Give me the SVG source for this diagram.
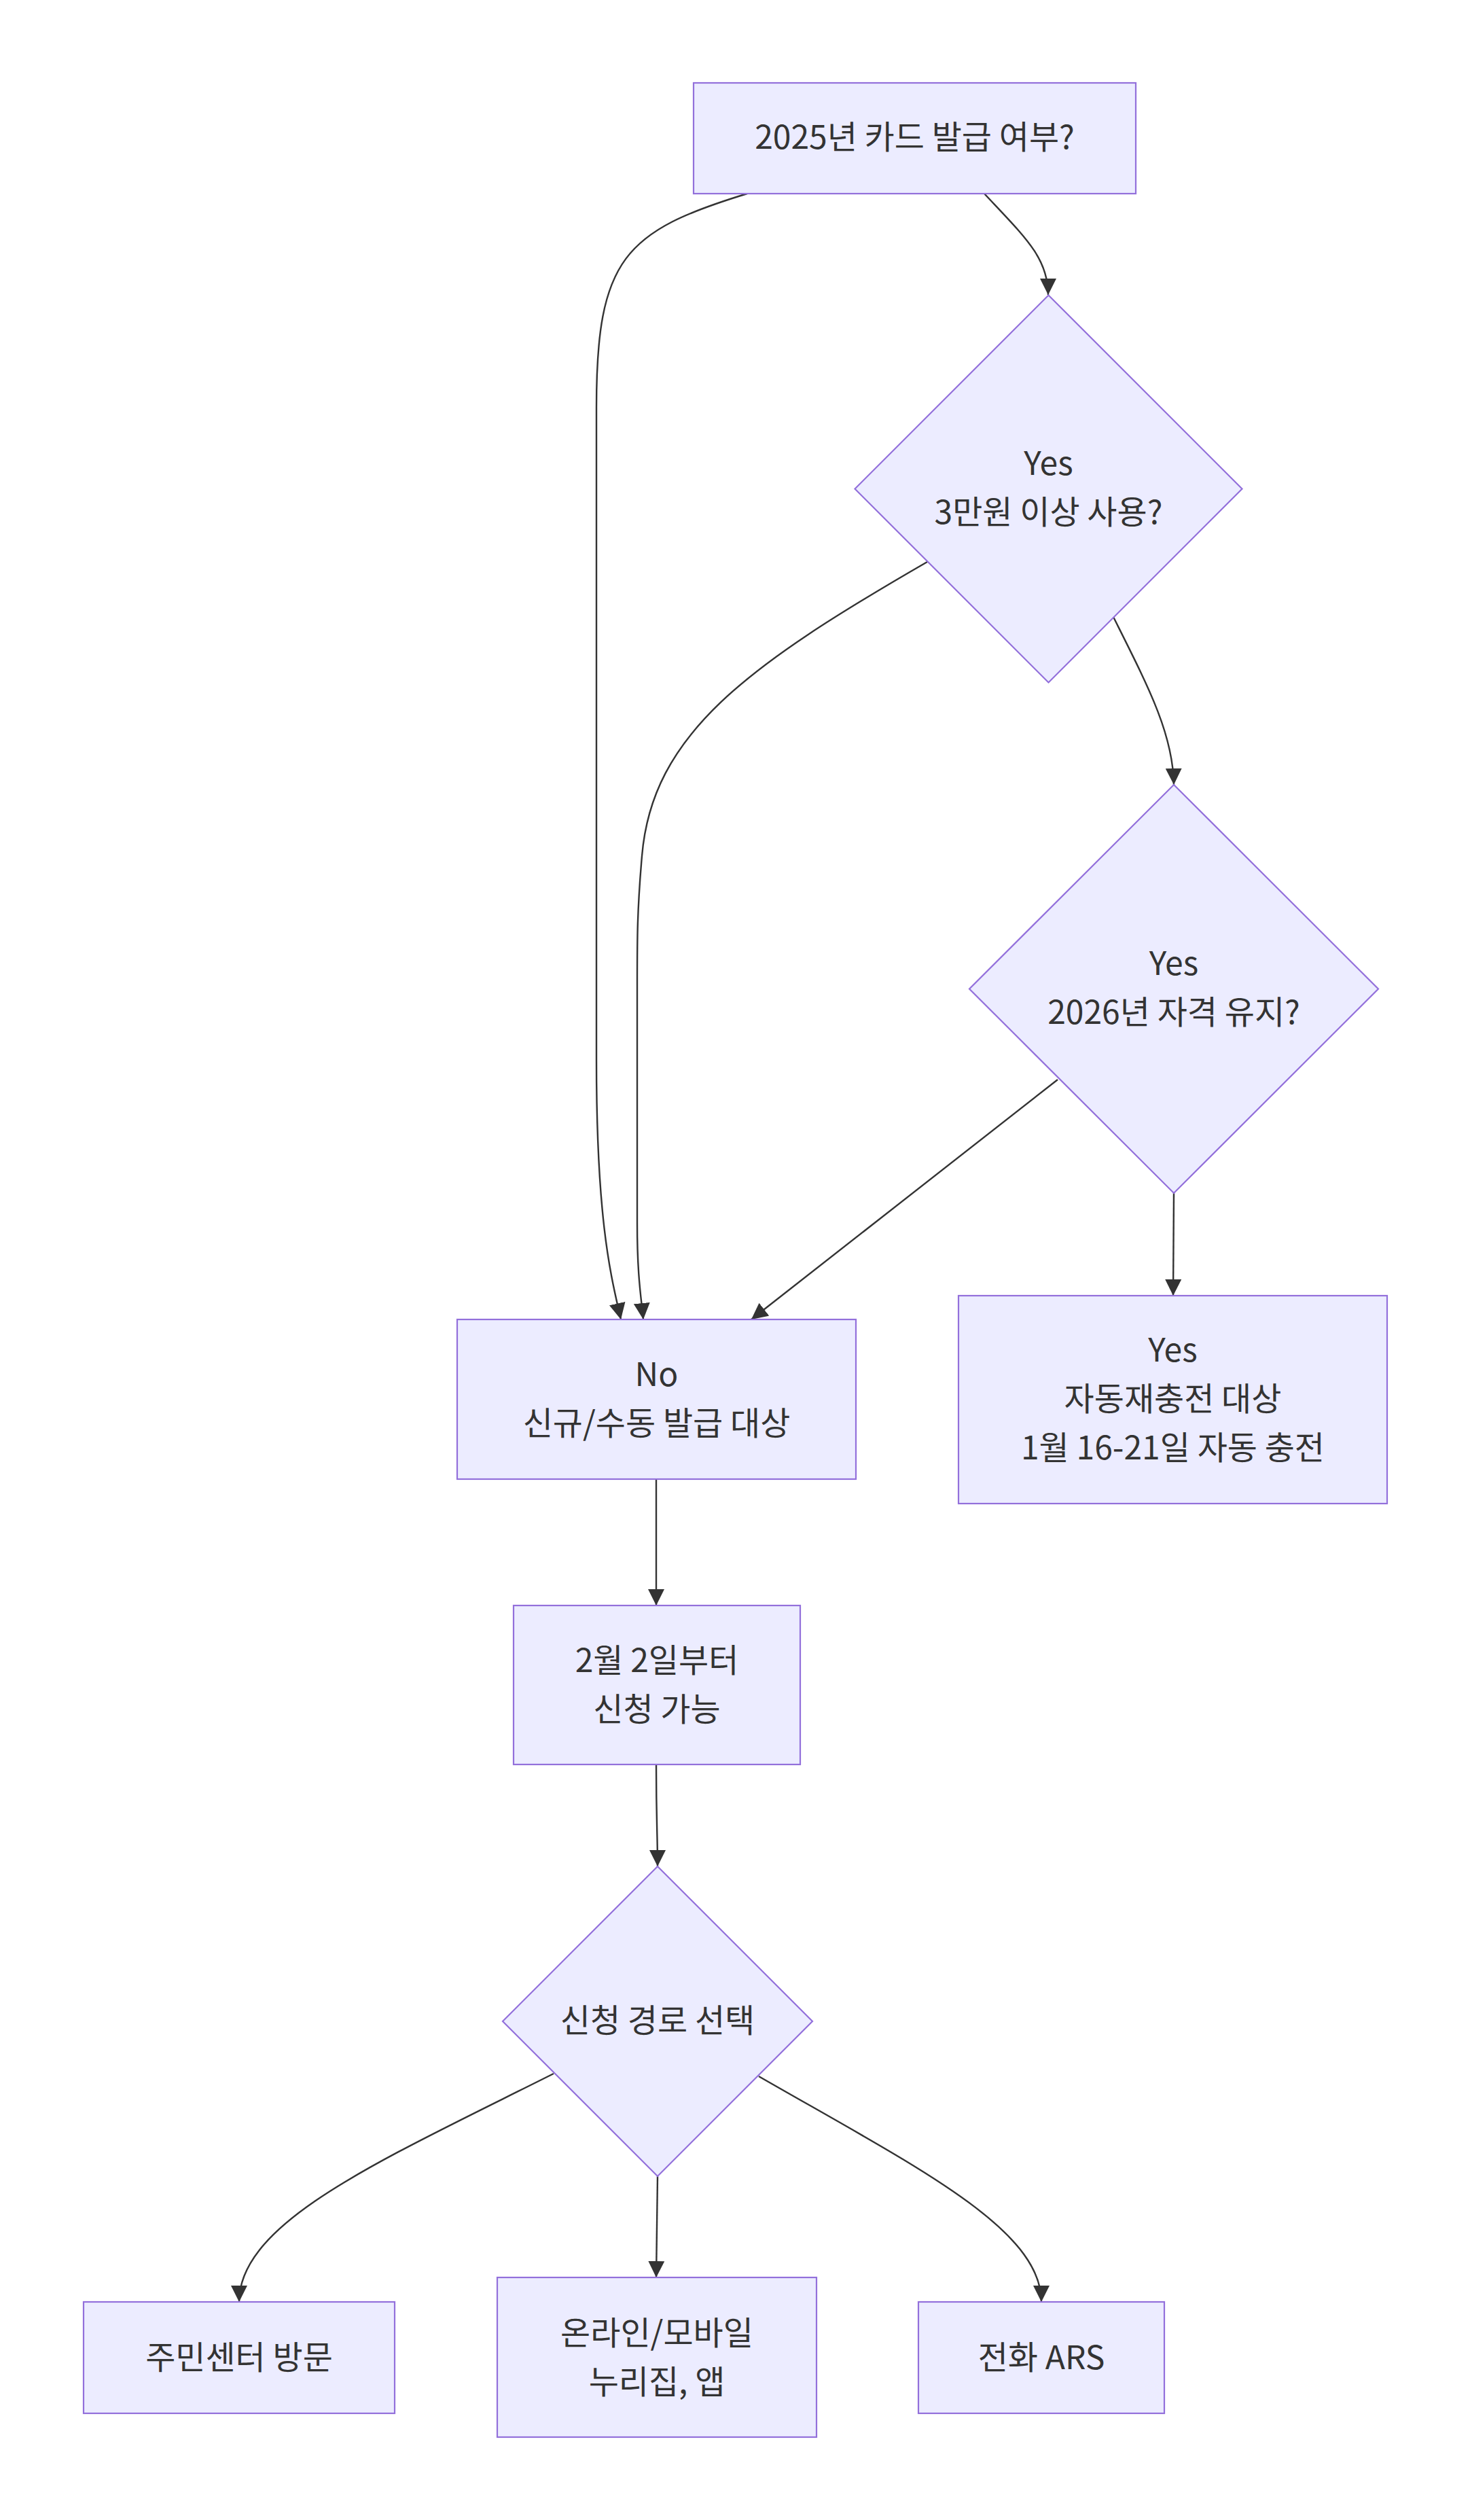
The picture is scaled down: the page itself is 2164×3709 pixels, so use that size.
<svg xmlns="http://www.w3.org/2000/svg" width="2164" height="3709" viewBox="0 0 2164 3709">
<style>
.node rect,.node polygon{fill:#ECECFF;stroke:#9370DB;stroke-width:2.2}
.node text{font-family:"Noto Sans CJK KR","Noto Sans",sans-serif;font-size:48px;fill:#333333;text-anchor:middle}
.edges path{fill:none;stroke:#333333;stroke-width:2.4}
</style>
<defs>
<marker id="arrow" viewBox="0 0 10 10" refX="10" refY="5" markerWidth="24" markerHeight="24" markerUnits="userSpaceOnUse" orient="auto">
<path d="M0,0 L10,5 L0,10 z" fill="#333333"/>
</marker>
</defs>
<rect width="2164" height="3709" fill="#ffffff"/>
<g class="edges">
<path d="M1100,285 C920,340 878,380 878,600 L878,1560 C878,1800 900,1880 914,1942" marker-end="url(#arrow)"/>
<path d="M1449,285 C1510,350 1543,380 1543,434" marker-end="url(#arrow)"/>
<path d="M1365,827 C1100,980 960,1080 945,1260 C938,1340 938,1380 938,1450 L938,1800 C938,1880 944,1910 947,1942" marker-end="url(#arrow)"/>
<path d="M1639,908 C1690,1010 1727,1080 1728,1155" marker-end="url(#arrow)"/>
<path d="M1557,1589 L1106,1942" marker-end="url(#arrow)"/>
<path d="M1728,1756 L1727,1907" marker-end="url(#arrow)"/>
<path d="M966,2177 L966,2363" marker-end="url(#arrow)"/>
<path d="M966,2597 C966,2680 968,2700 968,2747" marker-end="url(#arrow)"/>
<path d="M815,3052 C560,3180 352,3270 352,3388" marker-end="url(#arrow)"/>
<path d="M968,3203 L966,3352" marker-end="url(#arrow)"/>
<path d="M1117,3056 C1350,3190 1533,3280 1533,3388" marker-end="url(#arrow)"/>
</g>
<g id="n1" class="node">
<rect x="1021" y="122" width="651" height="163"/>
<text x="1346.5" y="219">2025년 카드 발급 여부?</text>
</g>
<g id="n2" class="node">
<polygon points="1543.5,434.5 1828.5,719.5 1543.5,1004.5 1258.5,719.5"/>
<text x="1543.5" y="699">Yes</text>
<text x="1543.5" y="771">3만원 이상 사용?</text>
</g>
<g id="n3" class="node">
<polygon points="1728,1155 2029,1455.5 1728,1756 1427,1455.5"/>
<text x="1728" y="1435">Yes</text>
<text x="1728" y="1507">2026년 자격 유지?</text>
</g>
<g id="n4" class="node">
<rect x="673" y="1942" width="587" height="235"/>
<text x="966.5" y="2040">No</text>
<text x="966.5" y="2112">신규/수동 발급 대상</text>
</g>
<g id="n5" class="node">
<rect x="1411" y="1907" width="631" height="306"/>
<text x="1726.5" y="2004">Yes</text>
<text x="1726.5" y="2076">자동재충전 대상</text>
<text x="1726.5" y="2148">1월 16-21일 자동 충전</text>
</g>
<g id="n6" class="node">
<rect x="756" y="2363" width="422" height="234"/>
<text x="967" y="2461">2월 2일부터</text>
<text x="967" y="2533">신청 가능</text>
</g>
<g id="n7" class="node">
<polygon points="968,2747 1196,2975 968,3203 740,2975"/>
<text x="968" y="2991">신청 경로 선택</text>
</g>
<g id="n8" class="node">
<rect x="123" y="3388" width="458" height="164"/>
<text x="352" y="3487">주민센터 방문</text>
</g>
<g id="n9" class="node">
<rect x="732" y="3352" width="470" height="235"/>
<text x="967" y="3451">온라인/모바일</text>
<text x="967" y="3523">누리집, 앱</text>
</g>
<g id="n10" class="node">
<rect x="1352" y="3388" width="362" height="164"/>
<text x="1533" y="3487">전화 ARS</text>
</g>
</svg>
